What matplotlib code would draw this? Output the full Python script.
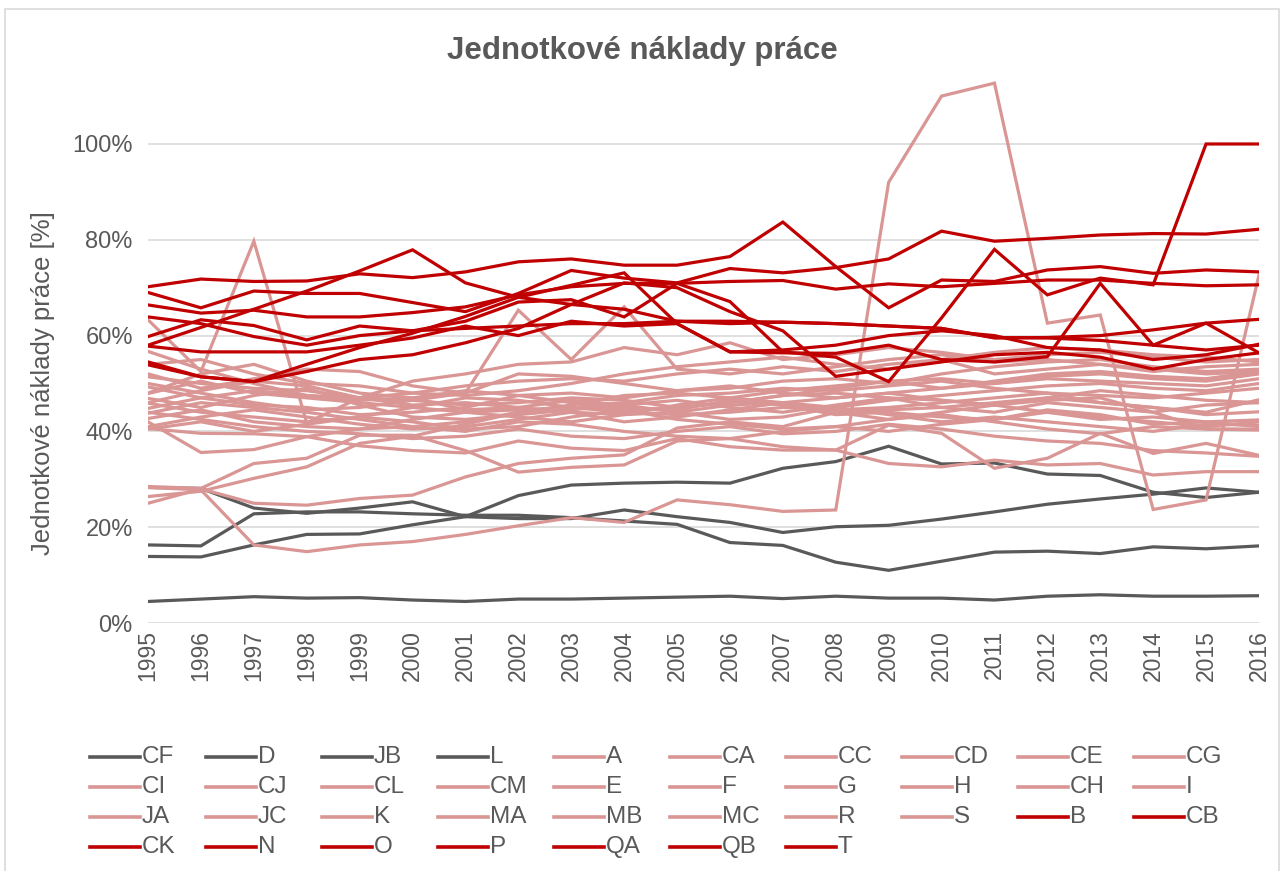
import matplotlib
matplotlib.use("Agg")
import matplotlib.pyplot as plt
from matplotlib.lines import Line2D

plt.rcParams['font.family'] = ['Liberation Sans', 'DejaVu Sans']

years = list(range(1995, 2017))

# sedi - CF, D, JB, L
gray_names = ['CF', 'D', 'JB', 'L']
gray_vals = [
    [4.5, 5.0, 5.5, 5.2, 5.3, 4.8, 4.5, 5.0, 5.0, 5.2, 5.4, 5.6, 5.1, 5.6, 5.2, 5.2, 4.8, 5.6, 5.9, 5.6, 5.6, 5.7],
    [13.9, 13.8, 16.3, 18.5, 18.6, 20.5, 22.2, 26.6, 28.8, 29.2, 29.4, 29.2, 32.3, 33.7, 36.9, 33.2, 33.4, 31.1, 30.8, 27.3, 26.2, 27.3],
    [28.3, 28.1, 24.0, 22.9, 24.0, 25.3, 22.2, 21.8, 21.8, 23.6, 22.2, 21.0, 18.9, 20.1, 20.4, 21.7, 23.2, 24.8, 25.9, 26.9, 28.2, 27.3],
    [16.3, 16.1, 22.8, 23.2, 23.2, 22.8, 22.5, 22.5, 22.0, 21.3, 20.6, 16.8, 16.2, 12.7, 11.0, 12.9, 14.8, 15.0, 14.5, 15.9, 15.5, 16.1],
]

# ruzove
pink_names = ['A', 'CA', 'CC', 'CD', 'CE', 'CG', 'CI', 'CJ', 'CL', 'CM', 'E', 'F',
              'G', 'H', 'CH', 'I', 'JA', 'JC', 'K', 'MA', 'MB', 'MC', 'R', 'S']
pink_vals = [
    [28.3, 27.8, 16.3, 14.9, 16.3, 17.0, 18.5, 20.3, 22.0, 21.0, 25.7, 24.7, 23.3, 23.6, 92.0, 110.0, 112.7, 62.6, 64.3, 23.7, 25.7, 72.6],
    [63.3, 52.5, 79.7, 41.8, 47.0, 50.5, 52.0, 54.0, 54.5, 57.5, 56.0, 58.5, 55.0, 56.0, 57.5, 56.5, 55.0, 56.0, 56.5, 55.5, 54.5, 55.0],
    [28.5, 28.1, 33.3, 34.4, 39.2, 39.2, 36.0, 31.5, 32.5, 33.0, 38.0, 38.5, 40.0, 41.0, 40.0, 41.5, 42.5, 44.0, 43.0, 42.0, 41.0, 42.0],
    [25.0, 28.0, 25.0, 24.6, 26.0, 26.7, 30.5, 33.3, 34.4, 35.1, 40.7, 42.0, 41.0, 44.0, 44.5, 45.0, 46.0, 47.0, 46.0, 45.0, 44.0, 46.6],
    [26.4, 27.5, 30.2, 32.6, 37.5, 39.0, 41.5, 44.0, 45.0, 44.5, 45.0, 46.0, 47.5, 48.0, 47.0, 46.5, 45.5, 46.5, 47.0, 44.0, 40.5, 40.3],
    [42.0, 35.6, 36.2, 38.9, 40.5, 41.0, 40.0, 42.0, 41.5, 40.0, 39.0, 38.5, 36.8, 36.1, 41.3, 39.6, 32.3, 34.4, 39.6, 35.4, 37.5, 35.0],
    [40.6, 39.6, 39.5, 38.9, 37.0, 36.0, 35.5, 38.0, 36.5, 36.0, 38.5, 36.8, 36.1, 36.1, 33.3, 32.6, 34.0, 33.0, 33.3, 30.9, 31.6, 31.6],
    [56.7, 53.0, 50.0, 47.5, 47.0, 46.5, 48.0, 52.0, 51.5, 50.0, 48.5, 49.0, 50.5, 51.0, 50.0, 52.0, 53.5, 54.5, 55.0, 53.5, 52.5, 53.0],
    [54.0, 55.0, 52.0, 50.0, 49.5, 48.0, 47.5, 48.5, 50.0, 52.0, 53.5, 54.5, 55.5, 54.0, 53.0, 55.0, 56.5, 57.5, 57.0, 56.0, 55.5, 54.5],
    [52.0, 49.0, 51.0, 53.0, 52.5, 49.5, 48.0, 65.3, 55.0, 66.0, 53.0, 52.0, 53.5, 52.5, 54.0, 55.0, 52.0, 53.0, 54.0, 52.5, 53.5, 54.0],
    [51.4, 50.0, 49.0, 48.5, 47.0, 48.0, 49.5, 50.5, 51.0, 50.5, 52.0, 53.0, 52.0, 53.5, 55.0, 56.0, 54.5, 55.0, 54.0, 53.0, 52.0, 52.5],
    [50.0, 48.0, 46.0, 44.5, 45.0, 46.5, 45.5, 46.0, 47.0, 46.5, 45.0, 46.0, 47.5, 49.0, 50.5, 51.0, 50.0, 51.5, 52.0, 51.0, 50.5, 52.0],
    [49.3, 47.0, 45.5, 45.0, 43.5, 44.0, 45.0, 47.5, 48.0, 47.0, 48.5, 49.5, 48.0, 47.0, 48.0, 49.0, 50.0, 51.0, 50.5, 50.0, 49.5, 51.0],
    [48.0, 52.0, 54.0, 50.5, 48.0, 47.0, 44.5, 45.0, 46.5, 45.5, 44.0, 45.5, 46.0, 45.0, 46.5, 47.5, 48.5, 49.5, 50.0, 49.0, 48.5, 50.0],
    [47.9, 50.5, 48.0, 47.0, 46.0, 45.0, 44.0, 44.5, 45.0, 44.0, 43.5, 44.0, 45.0, 44.5, 45.0, 46.0, 47.0, 48.0, 47.5, 47.0, 48.0, 49.0],
    [46.9, 45.0, 47.5, 49.0, 45.5, 43.0, 42.5, 43.5, 44.5, 45.5, 46.5, 45.0, 44.0, 45.5, 47.0, 45.0, 44.0, 46.0, 45.0, 44.0, 45.5, 46.0],
    [46.0, 48.5, 50.5, 49.5, 47.0, 45.5, 46.0, 45.0, 44.0, 43.5, 45.5, 47.0, 48.5, 49.5, 50.5, 49.0, 50.5, 52.0, 52.5, 51.5, 51.0, 52.5],
    [45.9, 44.0, 43.0, 42.0, 43.0, 45.0, 47.0, 46.5, 45.0, 46.0, 47.5, 48.0, 49.0, 48.5, 49.5, 50.5, 49.0, 48.0, 46.0, 45.0, 43.5, 44.1],
    [44.8, 47.0, 48.5, 47.5, 46.5, 47.0, 48.5, 47.5, 46.0, 45.0, 44.5, 46.5, 45.5, 43.5, 44.0, 43.0, 42.5, 44.5, 43.5, 41.5, 42.0, 42.4],
    [43.8, 46.0, 45.0, 44.0, 42.5, 41.0, 42.0, 44.0, 45.5, 47.5, 48.0, 47.0, 46.0, 47.0, 48.0, 46.5, 45.5, 47.0, 48.5, 47.5, 46.5, 46.0],
    [42.7, 44.5, 42.0, 41.0, 40.5, 42.5, 44.0, 43.0, 42.0, 43.5, 44.0, 42.5, 43.0, 45.0, 43.5, 42.0, 43.0, 42.0, 41.0, 40.0, 41.5, 41.3],
    [41.0, 43.0, 44.5, 43.0, 41.5, 40.5, 41.0, 42.5, 44.0, 42.0, 43.0, 44.5, 46.0, 44.0, 42.5, 44.0, 45.5, 44.0, 42.5, 43.0, 42.0, 41.0],
    [40.5, 42.0, 40.0, 41.5, 43.0, 42.0, 40.5, 41.0, 43.0, 44.5, 42.5, 41.5, 40.5, 41.0, 42.5, 43.5, 42.0, 40.5, 39.5, 41.0, 40.5, 40.5],
    [44.0, 42.5, 41.0, 40.0, 39.5, 38.5, 39.0, 40.5, 39.0, 38.5, 40.0, 41.0, 39.5, 40.0, 41.5, 40.5, 39.0, 38.0, 37.5, 36.0, 35.5, 34.8],
]

# cervene
red_names = ['B', 'CB', 'CK', 'N', 'O', 'P', 'QA', 'QB', 'T']
red_vals = [
    [70.2, 71.8, 71.3, 71.4, 72.9, 72.1, 73.3, 75.4, 76.0, 74.7, 74.7, 76.5, 83.7, 74.4, 65.8, 71.6, 71.3, 73.7, 74.4, 73.0, 73.7, 73.3],
    [69.0, 65.8, 69.3, 68.8, 68.8, 66.9, 65.0, 68.8, 73.6, 72.0, 71.0, 74.0, 73.1, 74.2, 76.0, 81.8, 79.7, 80.3, 81.0, 81.3, 81.2, 82.2],
    [66.4, 64.7, 65.3, 63.9, 63.9, 64.8, 66.0, 68.5, 70.2, 70.9, 70.9, 71.3, 71.5, 69.7, 70.8, 70.2, 70.9, 71.6, 71.6, 70.9, 70.4, 70.6],
    [58.0, 61.7, 65.5, 69.3, 73.5, 77.9, 71.0, 68.0, 66.5, 65.5, 63.0, 62.5, 62.8, 62.5, 62.0, 61.5, 59.5, 59.6, 60.0, 61.2, 62.6, 63.4],
    [54.5, 51.4, 50.4, 54.0, 57.5, 60.5, 64.0, 68.0, 70.5, 73.1, 62.5, 56.6, 56.4, 56.3, 58.0, 55.0, 54.5, 55.6, 70.9, 58.0, 62.6, 56.4],
    [63.9, 62.5, 59.8, 58.0, 60.0, 61.0, 63.0, 67.0, 67.5, 63.9, 70.9, 67.1, 56.6, 55.5, 50.4, 63.7, 78.0, 68.5, 72.0, 70.6, 100.0, 100.0],
    [59.8, 63.3, 62.1, 59.1, 62.0, 61.0, 61.5, 62.0, 62.5, 62.5, 63.0, 63.0, 62.8, 62.5, 62.0, 61.5, 59.6, 59.5, 59.0, 58.0, 57.0, 58.0],
    [57.8, 56.6, 56.6, 56.6, 58.0, 59.5, 62.0, 60.0, 63.0, 62.0, 62.5, 56.6, 57.0, 58.0, 60.0, 61.0, 60.0, 57.5, 57.0, 55.0, 56.0, 58.2],
    [53.9, 51.4, 50.4, 52.5, 55.0, 56.0, 58.5, 61.5, 66.5, 71.0, 70.0, 65.0, 61.0, 51.5, 53.0, 54.5, 56.0, 56.5, 55.5, 53.0, 55.0, 56.4],
]

GRAY = '#595959'
PINK = '#D99694'
RED = '#C00000'

fig = plt.figure(figsize=(12.84, 8.71), dpi=100)
ax = fig.add_axes([0.1153, 0.2847, 0.8652, 0.66])

groups = [(gray_names, gray_vals, GRAY), (pink_names, pink_vals, PINK), (red_names, red_vals, RED)]
for names, vals, col in groups:
    for n, v in zip(names, vals):
        ax.plot(years, [x / 100 for x in v], color=col, lw=2.3, label=n, solid_joinstyle='miter')

ax.set_xlim(1995, 2016)
ax.set_ylim(0, 1.2)
ax.set_yticks([0, 0.2, 0.4, 0.6, 0.8, 1.0])
ax.set_yticklabels(['0%', '20%', '40%', '60%', '80%', '100%'])
ax.set_xticks(years)
ax.set_xticklabels([str(y) for y in years], rotation=90)
ax.tick_params(colors=GRAY, labelsize=17, length=0)
ax.tick_params(axis='y', pad=11)
ax.tick_params(axis='x', pad=5, labelsize=16.5)
ax.grid(axis='y', color='#D9D9D9', lw=1.2)
ax.set_axisbelow(True)
for s in ax.spines.values():
    s.set_visible(False)
ax.set_ylabel('Jednotkové náklady práce [%]', fontsize=18.5, color=GRAY)
ax.yaxis.set_label_coords(-0.084, 0.5 / 1.2)

fig.text(0.5, 0.942, 'Jednotkové náklady práce', ha='center', va='center',
         fontsize=22.5, fontweight='bold', color=GRAY)

# legenda po radcich jako v Excelu
handles, labels = ax.get_legend_handles_labels()
for i, (h, lab) in enumerate(zip(handles, labels)):
    r, c = divmod(i, 10)
    x0 = (90 + c * 116) / 1284
    y0 = 1 - (757 + r * 30) / 871
    fig.add_artist(Line2D([x0, x0 + 50 / 1284], [y0, y0], color=h.get_color(), lw=2.6))
    fig.text(x0 + 52 / 1284, y0, lab, ha='left', va='center', fontsize=17.5, color=GRAY)

# ramecek grafu
fig.add_artist(plt.Rectangle((0.004, -0.01), 0.992, 1.0, fill=False, ec='#D9D9D9', lw=1.2))

fig.savefig('out.png', dpi=100)
